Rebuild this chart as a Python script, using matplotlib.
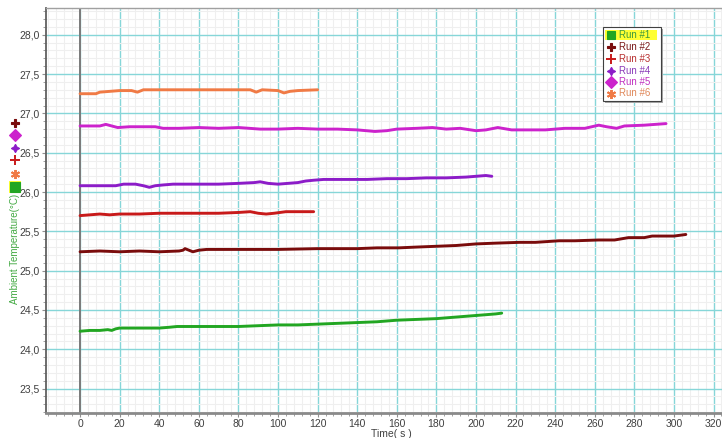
import matplotlib
matplotlib.use("Agg")
import matplotlib.pyplot as plt
from matplotlib.ticker import MultipleLocator, FuncFormatter
from matplotlib.patches import Rectangle

plt.rcParams['font.family'] = ['Liberation Sans', 'DejaVu Sans']

# logged runs: time in seconds, ambient temperature in degrees C
run1_t = [0, 5, 10, 14, 16, 18, 20, 30, 40, 45, 49, 60, 70, 80, 90, 100, 110, 120, 130, 140,
          150, 160, 170, 180, 185, 190, 195, 200, 205, 210, 213]
run1_v = [24.23, 24.24, 24.24, 24.25, 24.24, 24.26, 24.27, 24.27, 24.27, 24.28, 24.29, 24.29,
          24.29, 24.29, 24.30, 24.31, 24.31, 24.32, 24.33, 24.34, 24.35, 24.37, 24.38, 24.39,
          24.40, 24.41, 24.42, 24.43, 24.44, 24.45, 24.46]

run2_t = [0, 10, 20, 30, 40, 50, 52, 53, 55, 57, 60, 64, 80, 100, 120, 140, 150, 161, 170, 180,
          190, 200, 210, 222, 230, 242, 250, 262, 270, 277, 285, 289, 300, 306]
run2_v = [25.24, 25.25, 25.24, 25.25, 25.24, 25.25, 25.26, 25.28, 25.26, 25.24, 25.26, 25.27,
          25.27, 25.27, 25.28, 25.28, 25.29, 25.29, 25.30, 25.31, 25.32, 25.34, 25.35, 25.36,
          25.36, 25.38, 25.38, 25.39, 25.39, 25.42, 25.42, 25.44, 25.44, 25.46]

run3_t = [0, 5, 10, 15, 20, 30, 40, 50, 60, 70, 80, 86, 90, 94, 98, 104, 110, 118]
run3_v = [25.70, 25.71, 25.72, 25.71, 25.72, 25.72, 25.73, 25.73, 25.73, 25.73, 25.74, 25.75,
          25.73, 25.72, 25.73, 25.75, 25.75, 25.75]

run4_t = [0, 10, 18, 22, 28, 32, 35, 38, 42, 47, 55, 61, 70, 80, 88, 91, 95, 100, 105, 110, 114,
          118, 123, 135, 145, 155, 165, 175, 185, 195, 200, 205, 208]
run4_v = [26.08, 26.08, 26.08, 26.10, 26.10, 26.08, 26.06, 26.08, 26.09, 26.10, 26.10, 26.10,
          26.10, 26.11, 26.12, 26.13, 26.11, 26.10, 26.11, 26.12, 26.14, 26.15, 26.16, 26.16,
          26.16, 26.17, 26.17, 26.18, 26.18, 26.19, 26.20, 26.21, 26.20]

run5_t = [0, 5, 10, 13, 16, 19, 25, 30, 38, 42, 50, 60, 70, 80, 91, 100, 110, 120, 130, 140, 149,
          155, 160, 170, 178, 185, 192, 200, 205, 211, 218, 225, 235, 245, 255, 262, 266, 271,
          275, 285, 296]
run5_v = [26.84, 26.84, 26.84, 26.86, 26.84, 26.82, 26.83, 26.83, 26.83, 26.81, 26.81, 26.82,
          26.81, 26.82, 26.80, 26.80, 26.81, 26.80, 26.80, 26.79, 26.77, 26.78, 26.80, 26.81,
          26.82, 26.80, 26.81, 26.78, 26.79, 26.82, 26.79, 26.79, 26.79, 26.81, 26.81, 26.85,
          26.83, 26.81, 26.84, 26.85, 26.87]

run6_t = [0, 8, 10, 15, 20, 26, 29, 32, 40, 50, 60, 70, 80, 86, 89, 92, 100, 103, 106, 110, 120]
run6_v = [27.25, 27.25, 27.27, 27.28, 27.29, 27.29, 27.27, 27.30, 27.30, 27.30, 27.30, 27.30,
          27.30, 27.30, 27.27, 27.30, 27.29, 27.26, 27.28, 27.29, 27.30]

run_names = ['Run #1', 'Run #2', 'Run #3', 'Run #4', 'Run #5', 'Run #6']
run_colors = ['#22a622', '#7a0c0c', '#c81a1a', '#8c1cc8', '#cc22cc', '#f07a45']
run_text_colors = ['#3c9a3c', '#7a1a1a', '#b83030', '#8a3ab8', '#c030c0', '#e0885a']
run_markers = ['s', 'P', '+', (4, 1, 0), 'D', (6, 2, 0)]

series = [(run1_t, run1_v), (run2_t, run2_v), (run3_t, run3_v),
          (run4_t, run4_v), (run5_t, run5_v), (run6_t, run6_v)]

W, H = 722, 438
fig = plt.figure(figsize=(W / 100, H / 100), dpi=100)
ax = fig.add_axes([46 / W, 1 - 413 / H, 1 - 46 / W + 0.002, (413 - 8) / H])

ax.set_xlim(-17.2, 325)
ax.set_ylim(23.19, 28.34)
ax.xaxis.set_major_locator(MultipleLocator(20))
ax.xaxis.set_minor_locator(MultipleLocator(4))
ax.yaxis.set_major_locator(MultipleLocator(0.5))
ax.yaxis.set_minor_locator(MultipleLocator(0.1))
ax.yaxis.set_major_formatter(FuncFormatter(lambda v, p: f"{v:.1f}".replace('.', ',')))
ax.xaxis.set_major_formatter(FuncFormatter(lambda v, p: f"{v:.0f}"))

ax.grid(which='minor', color='#efefef', linewidth=0.8)
ax.grid(which='major', color='#86d6d8', linewidth=1.0)
ax.set_axisbelow(True)

ax.tick_params(which='both', labelsize=7.5, labelcolor='#404040', color='#909090')
ax.tick_params(which='major', length=3, width=0.8)
ax.tick_params(which='minor', length=2, width=0.6)
ax.tick_params(axis='y', pad=1.2)
ax.tick_params(axis='x', pad=1.5)

for side, col, lw in [('left', '#606060', 1.3), ('bottom', '#8a8a8a', 2.0),
                      ('top', '#a0a0a0', 1.0)]:
    ax.spines[side].set_color(col)
    ax.spines[side].set_linewidth(lw)
ax.spines['right'].set_visible(False)

ax.axvline(0, color='#7a7a7a', linewidth=1.4, zorder=1.5)

for (t, v), c in zip(series, run_colors):
    ax.plot(t, v, color=c, linewidth=2.1, solid_capstyle='round', zorder=3)

# overlay in pixel units for the legend box and the axis marker column
deco = fig.add_axes([0, 0, 1, 1], facecolor='none')
deco.set_xlim(0, W)
deco.set_ylim(H, 0)
deco.axis('off')

deco.add_patch(Rectangle((605, 29), 58, 74, facecolor='#a8a8a8', edgecolor='none'))
deco.add_patch(Rectangle((602.5, 26.5), 58, 74, facecolor='white', edgecolor='#404040',
                         linewidth=0.8))
deco.add_patch(Rectangle((605, 30), 52, 10, facecolor='#ffff33', edgecolor='none'))


def marker_style(m):
    if m in ('+', (6, 2, 0)):
        return dict(markersize=6.5, markeredgewidth=1.4)
    return dict(markersize=6, markeredgewidth=0.8)


legend_y = [35, 46.5, 58.5, 70.5, 82, 93.5]
for name, c, tc, m, y in zip(run_names, run_colors, run_text_colors, run_markers, legend_y):
    deco.plot([611], [y], marker=m, color=c, linestyle='none', **marker_style(m))
    deco.text(619, y, name, color=tc, fontsize=7, va='center', ha='left')

# marker column beside the y axis label (Run #1 .. Run #6)
deco.add_patch(Rectangle((9, 181), 12, 12, facecolor='#ffff33', edgecolor='none'))
side_y = [187, 123, 160, 148, 135, 174]
for c, m, y in zip(run_colors, run_markers, side_y):
    st = marker_style(m)
    if m == 's':
        st['markersize'] = 7
    deco.plot([15], [y], marker=m, color=c, linestyle='none', **st)

fig.text(15 / W, 1 - 249 / H, 'Ambient Temperature(°C)', rotation=90, color='#44aa44',
         fontsize=7, ha='center', va='center')
fig.text(391 / W, 1 - 434 / H, 'Time( s )', color='#404040', fontsize=7.5,
         ha='center', va='center')

fig.savefig('out.png', dpi=100)
